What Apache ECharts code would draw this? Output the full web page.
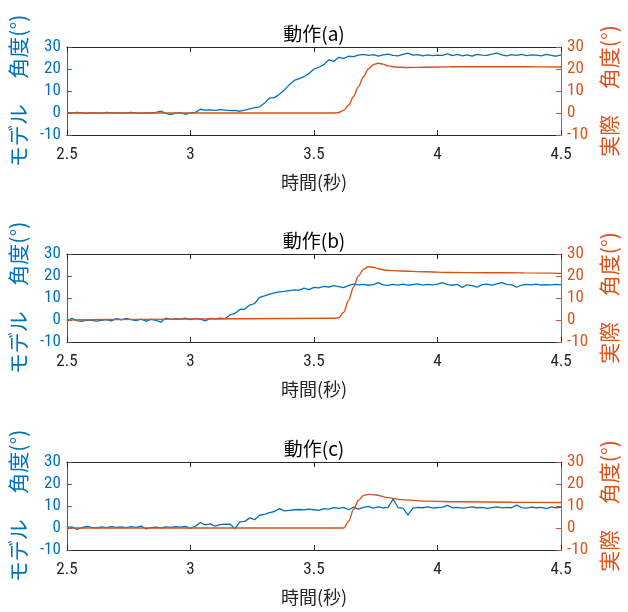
<!DOCTYPE html>
<html>
<head>
<meta charset="utf-8">
<script src="https://cdn.jsdelivr.net/npm/echarts@6/dist/echarts.min.js"></script>
<style>
html,body{margin:0;padding:0;background:#fff;}
#chart{width:628px;height:612px;}
</style>
</head>
<body>
<div id="chart"></div>
<script>
// ---- data ----
const titles = ['動作(a)', '動作(b)', '動作(c)'];
const xLabel = '時間(秒)';
const leftName = 'モデル\u3000 角度(°)';
const rightName = '実際\u3000 角度(°)';
const xTicks = [2.5, 3, 3.5, 4, 4.5];
const yTicks = [-10, 0, 10, 20, 30];

const times = [2.50,2.52,2.54,2.56,2.58,2.60,2.62,2.64,2.66,2.68,
2.70,2.72,2.74,2.76,2.78,2.80,2.82,2.84,2.86,2.88,
2.90,2.92,2.94,2.96,2.98,3.00,3.02,3.04,3.06,3.08,
3.10,3.12,3.14,3.16,3.18,3.20,3.22,3.24,3.26,3.28,
3.30,3.32,3.34,3.36,3.38,3.40,3.42,3.44,3.46,3.48,
3.50,3.52,3.54,3.56,3.58,3.60,3.62,3.64,3.66,3.68,
3.70,3.72,3.74,3.76,3.78,3.80,3.82,3.84,3.86,3.88,
3.90,3.92,3.94,3.96,3.98,4.00,4.02,4.04,4.06,4.08,
4.10,4.12,4.14,4.16,4.18,4.20,4.22,4.24,4.26,4.28,
4.30,4.32,4.34,4.36,4.38,4.40,4.42,4.44,4.46,4.48,
4.50];

const modelA = [0.2,0.0,0.3,0.1,-0.2,0.2,0.0,-0.1,0.3,0.0,
0.2,-0.1,0.1,0.3,0.0,-0.2,0.1,0.0,0.3,0.9,
-0.2,-0.7,-0.1,0.2,-0.6,0.1,0.3,1.7,1.3,1.4,
1.2,1.5,1.3,1.1,1.2,0.8,1.3,1.9,2.4,2.8,
4.5,6.8,7.0,8.5,10.5,12.8,14.8,15.6,16.5,18.0,
20.0,20.8,22.0,24.2,23.5,25.3,24.8,25.8,25.6,26.3,
26.6,26.2,26.5,25.9,26.4,26.8,26.2,26.0,26.6,27.2,
26.3,26.5,26.0,26.4,26.1,26.3,26.2,26.9,26.1,26.7,
26.0,26.4,25.9,26.6,26.3,26.2,26.8,27.2,26.4,26.0,
26.5,26.2,26.7,26.1,26.4,26.3,26.0,26.6,26.2,25.8,
26.4];

const modelB = [-0.5,0.8,-0.3,-0.6,0.0,-0.2,-0.5,-0.2,0.2,-0.4,
0.6,0.1,0.7,0.2,-0.3,0.4,-0.5,0.3,-0.2,-1.0,
0.8,0.3,0.6,0.4,0.9,0.2,0.7,0.4,-0.4,0.7,
0.5,0.8,0.6,2.3,3.0,4.8,5.0,6.8,7.5,10.3,
11.0,11.8,12.3,12.8,13.0,13.4,13.7,13.6,14.5,13.8,
14.8,14.6,15.3,15.0,15.6,15.2,14.7,15.7,16.3,16.0,
16.2,15.8,16.1,17.0,16.0,15.7,16.2,15.9,16.3,15.8,
16.1,16.4,15.9,16.2,16.0,16.3,17.0,16.1,15.8,16.2,
14.8,16.0,15.6,14.9,16.1,16.3,15.8,16.4,17.0,16.2,
16.0,14.9,15.9,16.2,16.0,16.3,15.9,16.1,16.0,16.2,
16.0];

const modelC = [0.3,0.5,-0.6,0.2,0.7,0.3,0.1,0.5,0.2,0.6,
0.3,0.5,0.2,0.6,0.3,0.9,-0.4,0.2,0.4,0.1,
0.5,0.3,0.6,0.4,0.7,-0.2,0.8,2.5,1.4,1.9,
0.8,1.5,1.7,1.8,-0.3,2.8,3.0,4.6,3.8,5.8,
6.2,7.0,7.5,8.8,7.8,8.0,8.3,8.4,8.2,8.6,
8.3,8.0,8.8,8.6,9.3,8.9,9.4,8.3,9.5,8.6,
9.4,9.8,9.0,9.6,9.1,9.4,13.2,9.3,9.0,5.9,
9.0,9.4,9.2,9.6,9.1,9.3,9.5,10.3,9.2,9.4,
9.0,9.3,9.6,9.2,9.4,8.9,9.3,9.6,9.1,9.4,
9.2,10.4,9.3,9.0,9.5,9.2,9.4,8.8,9.6,9.1,
9.5];

const actualATime = [2.5,3.58,3.60,3.62,3.64,3.66,3.68,3.70,3.72,3.74,3.76,3.78,3.80,3.83,3.88,3.95,4.05,4.2,4.35,4.5];
const actualA = [0,0,0.2,1.2,3.5,7.5,12,16.5,20,22,22.6,22.2,21.4,20.9,20.7,20.8,21.0,21.1,21.0,20.9];

const actualBTime = [2.5,2.8,3.2,3.58,3.60,3.62,3.64,3.66,3.68,3.70,3.72,3.74,3.76,3.79,3.85,3.95,4.05,4.2,4.35,4.5];
const actualB = [0,0.3,0.6,0.8,1.0,3.5,9,15,20,23,24.2,24.0,23.3,22.6,22.3,21.9,21.6,21.5,21.4,21.2];

const actualCTime = [2.5,3.2,3.62,3.64,3.66,3.68,3.70,3.72,3.75,3.80,3.85,3.95,4.1,4.3,4.5];
const actualC = [0,0,0,3,8.5,12.5,14.8,15.3,15.0,13.8,12.9,12.2,11.9,11.7,11.6];

// ---- build ----
const BLUE = '#0072BD', ORANGE = '#D95319', DARK = '#262626';
const NUM_FONT = "'Liberation Sans Narrow', 'Roboto Condensed', Roboto, 'Liberation Sans', sans-serif";
const CJK_FONT = "'Noto Sans CJK JP', sans-serif";

const models = [modelA, modelB, modelC];
const actualTimes = [actualATime, actualBTime, actualCTime];
const actuals = [actualA, actualB, actualC];
const tops = [47, 254, 462];
const H = 88;

const grid = [], xAxis = [], yAxis = [], series = [], title = [];
const pair = (ts, vs) => ts.map((t, i) => [t, vs[i]]);

for (let k = 0; k < 3; k++) {
  grid.push({left: 66, right: 65, top: tops[k], height: H, containLabel: false});
  title.push({
    text: titles[k], left: 'center', top: tops[k] - 28,
    textStyle: {fontFamily: CJK_FONT, fontSize: 19, fontWeight: 'normal', color: '#000'}
  });
  // bottom x axis
  xAxis.push({
    type: 'value', gridIndex: k, position: 'bottom', min: xTicks[0], max: xTicks[xTicks.length - 1], interval: 0.5,
    axisLine: {onZero: false, lineStyle: {color: DARK, width: 1}},
    axisTick: {inside: true, length: 5, lineStyle: {color: DARK}},
    axisLabel: {color: DARK, fontSize: 17, fontFamily: NUM_FONT, margin: 11},
    splitLine: {show: false},
    name: xLabel, nameLocation: 'middle', nameGap: 38,
    nameTextStyle: {color: DARK, fontSize: 18, fontFamily: CJK_FONT}
  });
  // top x axis (box)
  xAxis.push({
    type: 'value', gridIndex: k, position: 'top', min: xTicks[0], max: xTicks[xTicks.length - 1], interval: 0.5,
    axisLine: {onZero: false, lineStyle: {color: DARK, width: 1}},
    axisTick: {inside: true, length: 5, lineStyle: {color: DARK}},
    axisLabel: {show: false}, splitLine: {show: false}
  });
  // left y
  yAxis.push({
    type: 'value', gridIndex: k, position: 'left', min: yTicks[0], max: yTicks[yTicks.length - 1], interval: 10,
    axisLine: {show: true, onZero: false, lineStyle: {color: BLUE, width: 1}},
    axisTick: {show: true, inside: true, length: 5, lineStyle: {color: BLUE}},
    axisLabel: {color: BLUE, fontSize: 17, fontFamily: NUM_FONT, margin: 6},
    splitLine: {show: false},
    name: leftName, nameLocation: 'middle', nameRotate: 90, nameGap: 32,
    nameTextStyle: {color: BLUE, fontSize: 21, fontFamily: CJK_FONT}
  });
  // right y
  yAxis.push({
    type: 'value', gridIndex: k, position: 'right', min: yTicks[0], max: yTicks[yTicks.length - 1], interval: 10,
    axisLine: {show: true, onZero: false, lineStyle: {color: ORANGE, width: 1}},
    axisTick: {show: true, inside: true, length: 5, lineStyle: {color: ORANGE}},
    axisLabel: {color: ORANGE, fontSize: 17, fontFamily: NUM_FONT, margin: 6},
    splitLine: {show: false},
    name: rightName, nameLocation: 'middle', nameRotate: 90, nameGap: 35,
    nameTextStyle: {color: ORANGE, fontSize: 21, fontFamily: CJK_FONT}
  });
  series.push({
    type: 'line', xAxisIndex: 2 * k, yAxisIndex: 2 * k, data: pair(times, models[k]),
    showSymbol: false, symbol: 'none', lineStyle: {color: BLUE, width: 1.3}, z: 2, animation: false
  });
  series.push({
    type: 'line', xAxisIndex: 2 * k, yAxisIndex: 2 * k + 1, data: pair(actualTimes[k], actuals[k]),
    showSymbol: false, symbol: 'none', smooth: 0.3, smoothMonotone: 'x',
    lineStyle: {color: ORANGE, width: 1.4}, z: 3, animation: false
  });
}

const chart = echarts.init(document.getElementById('chart'), null, {renderer: 'canvas'});
chart.setOption({animation: false, backgroundColor: '#fff', title, grid, xAxis, yAxis, series});
</script>
</body>
</html>
